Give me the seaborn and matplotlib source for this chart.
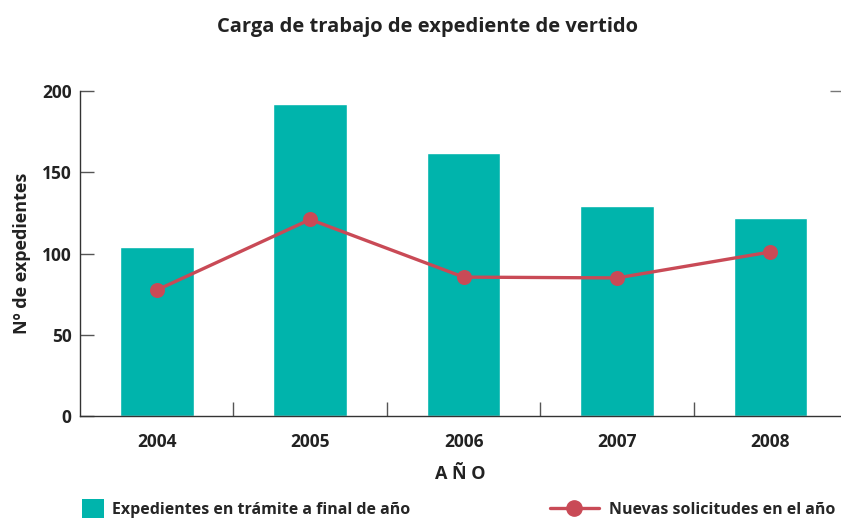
import pandas as pd
import matplotlib.pyplot as plt
import seaborn as sns
from matplotlib.patches import Patch
from matplotlib.lines import Line2D

# Data
years = ["2004", "2005", "2006", "2007", "2008"]
en_tramite = [104, 192, 162, 129, 122]
nuevas = [77.5, 121, 85.5, 85, 101]

teal = "#00B4AC"
red = "#C94A56"

df = pd.DataFrame({"Año": years, "En trámite": en_tramite, "Nuevas": nuevas})

sns.set_style("white")
plt.rcParams["font.family"] = ["Open Sans", "DejaVu Sans"]

fig = plt.figure(figsize=(8.41, 5.18), dpi=100)
ax = fig.add_axes([0.0951, 0.197, 0.905, 0.627])

sns.barplot(data=df, x="Año", y="En trámite", color=teal, width=0.48,
            saturation=1, ax=ax)
sns.pointplot(data=df, x="Año", y="Nuevas", color=red, markers="o",
              linewidth=2.4, markersize=9, ax=ax)

ax.set_xlim(-0.5, 4.46)
ax.set_ylim(0, 200)
ax.set_yticks([0, 50, 100, 150, 200])
ax.set_xticks([0.5, 1.5, 2.5, 3.5], minor=True)

for s in ["top", "right"]:
    ax.spines[s].set_visible(False)
for s in ["left", "bottom"]:
    ax.spines[s].set_color("#333333")
    ax.spines[s].set_linewidth(1.0)

ax.tick_params(axis="y", direction="in", length=10, width=1, color="#555555",
               labelsize=12.5, pad=6, left=True)
ax.tick_params(axis="x", which="major", length=0, labelsize=12.5, pad=12)
ax.tick_params(axis="x", which="minor", direction="in", length=10, width=1,
               color="#555555", bottom=True)
for lbl in ax.get_xticklabels() + ax.get_yticklabels():
    lbl.set_fontweight("bold")
    lbl.set_color("#222222")

# small tick on the right side at 200
ax2 = ax.twinx()
ax2.set_ylim(0, 200)
ax2.set_yticks([200])
ax2.set_yticklabels([])
ax2.tick_params(axis="y", direction="in", length=8, width=1, color="#777777")
for s in ["top", "right", "left", "bottom"]:
    ax2.spines[s].set_visible(False)

ax.set_xlabel("A Ñ O", fontsize=13, fontweight="bold", color="#222222",
              labelpad=10)
ax.set_ylabel("Nº de expedientes", fontsize=13, fontweight="bold",
              color="#222222", labelpad=8)

fig.suptitle("Carga de trabajo de expediente de vertido", x=0.508, y=0.968,
             fontsize=14.5, fontweight="bold", color="#222222")

h1 = Patch(facecolor=teal, edgecolor="none")
h2 = Line2D([0], [0], color=red, lw=2.4, marker="o", markersize=11)
fig.legend([h1], ["Expedientes en trámite a final de año"], loc="lower left",
           bbox_to_anchor=(0.08, -0.027), frameon=False, handlelength=1.4,
           handleheight=1.4, handletextpad=0.5,
           prop={"size": 11.5, "weight": "bold"})
fig.legend([h2], ["Nuevas solicitudes en el año"], loc="lower right",
           bbox_to_anchor=(1.01, -0.027), frameon=False, handlelength=3.1,
           handletextpad=0.6, prop={"size": 11.5, "weight": "bold"})

fig.savefig("out.png", dpi=100)
plt.close()
